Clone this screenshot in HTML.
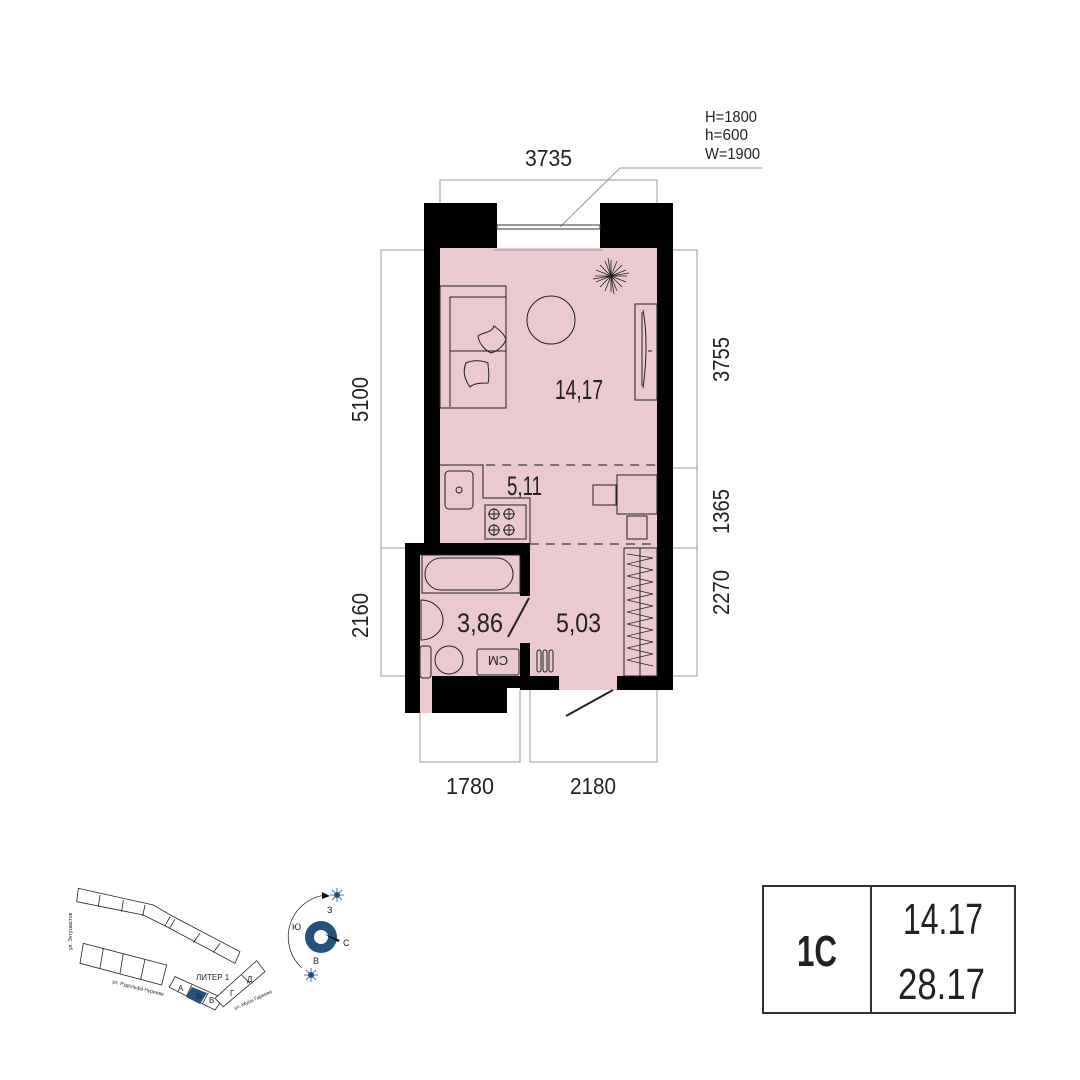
<!DOCTYPE html>
<html><head><meta charset="utf-8"><style>
html,body{margin:0;padding:0;background:#fff}
svg{display:block}
text{font-family:"Liberation Sans",sans-serif;fill:#222}
</style></head><body>
<svg width="1080" height="1080" viewBox="0 0 1080 1080" xmlns="http://www.w3.org/2000/svg">
<g stroke="#999" stroke-width="1" fill="none">
<path d="M440 203V180H657V203"/>
<path d="M424 250H381V548H407M381 548V676H407"/>
<path d="M673 250H697V468H673M697 468V548H673M697 548V676H673"/>
<path d="M420 713V762H520V690M530 690V762H657V690"/>
<path d="M560 227L620 168H762"/>
</g>
<g fill="#ecc9cf">
<rect x="440" y="248" width="217" height="297"/>
<rect x="420" y="555" width="100" height="121"/>
<rect x="420" y="676" width="12" height="37"/>
<rect x="530" y="543" width="127" height="133"/>
<rect x="520" y="596" width="10" height="47"/>
<rect x="559" y="676" width="58" height="14"/>
</g>
<g fill="#000">
<rect x="424" y="203" width="73" height="45"/>
<rect x="424" y="203" width="16" height="342"/>
<rect x="600" y="203" width="73" height="45"/>
<rect x="657" y="203" width="16" height="487"/>
<rect x="405" y="543" width="125" height="12"/>
<rect x="405" y="543" width="15" height="170"/>
<rect x="432" y="676" width="75" height="37"/>
<rect x="505" y="676" width="15" height="12"/>
<rect x="520" y="543" width="10" height="53"/>
<rect x="520" y="643" width="10" height="47"/>
<rect x="520" y="676" width="39" height="14"/>
<rect x="617" y="676" width="56" height="14"/>
</g>
<g stroke="#333" fill="none" stroke-width="1">
<rect x="497" y="225" width="103" height="4"/>
<line x1="494" y1="250" x2="603" y2="250" stroke="#999"/>
</g>
<g stroke="#222" fill="none" stroke-width="1">
<rect x="440" y="286" width="66" height="122"/>
<line x1="450" y1="297" x2="450" y2="407"/>
<line x1="450" y1="297" x2="506" y2="297"/>
<line x1="450" y1="351" x2="506" y2="351"/>
<path d="M478 336c5-4 14-3 16-10 4 3 11 8 12 14-3 6-8 11-15 13-6-3-12-9-13-17z"/>
<path d="M466 363c6-3 15-3 22 0 0 6 2 13 0 20-6 0-14 0-18 4-5-7-8-15-4-24z"/>
<circle cx="551" cy="320" r="24"/>
<rect x="635" y="304" width="22" height="96"/>
<path d="M643 310c4 20 4 50 0 78"/>
<line x1="642" y1="312" x2="642" y2="386"/>
<line x1="648" y1="351" x2="652" y2="351"/>
<g transform="translate(611,276)" stroke-width="0.8">
<path d="M0-16L0 16M-16 0L16 0M-11-11L11 11M-11 11L11-11M-6-15L6 15M6-15L-6 15M-15-6L15 6M15-6L-15 6M-3-18L3 18M-18 3L18-3"/>
</g>
<path d="M440 465H483V498H530V543"/>
<rect x="445" y="471" width="28" height="38" rx="4"/>
<circle cx="459" cy="490" r="3"/>
<rect x="485" y="505" width="41" height="34"/>
<g><circle cx="494" cy="514" r="5"/><circle cx="509" cy="514" r="5"/><circle cx="494" cy="530" r="5"/><circle cx="509" cy="530" r="5"/>
<path d="M494 508v12M488 514h12M509 508v12M503 514h12M494 524v12M488 530h12M509 524v12M503 530h12"/></g>
<rect x="617" y="475" width="40" height="39"/>
<rect x="593" y="485" width="23" height="20"/>
<rect x="627" y="516" width="20" height="23"/>
<rect x="422" y="555" width="98" height="38"/>
<rect x="425" y="558" width="88" height="32" rx="16"/>
<path d="M421 600a22 20 0 0 1 0 40z"/>
<rect x="420" y="646" width="11" height="32" rx="3"/>
<ellipse cx="449" cy="660" rx="14" ry="14"/>
<rect x="477" y="649" width="42" height="26" rx="2"/>
<line x1="529" y1="598" x2="508" y2="637" stroke-width="2"/>
<line x1="613" y1="690" x2="566" y2="716" stroke-width="2"/>
<rect x="624" y="548" width="33" height="128"/>
<line x1="640" y1="548" x2="640" y2="676"/>
<path d="M627 554L653 558L627 564L653 570L627 576L653 582L627 588L653 594L627 600L653 606L627 612L653 618L627 624L653 630L627 636L653 642L627 648L653 654L627 660L653 666" stroke-width="0.7"/>
<g stroke-width="1"><rect x="537" y="650" width="4" height="22" rx="2"/><rect x="543" y="650" width="4" height="22" rx="2"/><rect x="549" y="650" width="4" height="22" rx="2"/></g>
</g>
<g stroke="#555" stroke-width="1.5" stroke-dasharray="9 7" fill="none">
<line x1="486" y1="465" x2="657" y2="465"/>
<line x1="530" y1="544" x2="657" y2="544"/>
</g>
<g text-anchor="start">
<text x="555" y="399" font-size="28" textLength="48" lengthAdjust="spacingAndGlyphs">14,17</text>
<text x="507" y="495" font-size="27" textLength="35" lengthAdjust="spacingAndGlyphs">5,11</text>
<text x="457" y="632" font-size="27" textLength="46" lengthAdjust="spacingAndGlyphs">3,86</text>
<text x="556" y="632" font-size="27" textLength="45" lengthAdjust="spacingAndGlyphs">5,03</text>
<text x="525" y="166" font-size="23" textLength="47" lengthAdjust="spacingAndGlyphs">3735</text>
<text x="446" y="794" font-size="23" textLength="48" lengthAdjust="spacingAndGlyphs">1780</text>
<text x="570" y="794" font-size="23" textLength="46" lengthAdjust="spacingAndGlyphs">2180</text>
<text transform="translate(368,422) rotate(-90)" font-size="23" textLength="45" lengthAdjust="spacingAndGlyphs">5100</text>
<text transform="translate(368,638) rotate(-90)" font-size="23" textLength="45" lengthAdjust="spacingAndGlyphs">2160</text>
<text transform="translate(729,382) rotate(-90)" font-size="23" textLength="45" lengthAdjust="spacingAndGlyphs">3755</text>
<text transform="translate(729,534) rotate(-90)" font-size="23" textLength="45" lengthAdjust="spacingAndGlyphs">1365</text>
<text transform="translate(729,615) rotate(-90)" font-size="23" textLength="45" lengthAdjust="spacingAndGlyphs">2270</text>
</g>
<text x="498" y="668" font-size="13" text-anchor="middle" transform="rotate(180 498 662)">CM</text>
<g font-size="16" text-anchor="start">
<text x="705" y="122" textLength="52" lengthAdjust="spacingAndGlyphs">H=1800</text>
<text x="705" y="140" textLength="43" lengthAdjust="spacingAndGlyphs">h=600</text>
<text x="705" y="159" textLength="55" lengthAdjust="spacingAndGlyphs">W=1900</text>
</g>
<g stroke="#333" stroke-width="2" fill="none">
<rect x="763" y="886" width="252" height="127"/>
<line x1="871" y1="886" x2="871" y2="1013"/>
</g>
<text x="797" y="966" font-size="44" font-weight="bold" textLength="40" lengthAdjust="spacingAndGlyphs">1C</text>
<text x="903" y="934" font-size="44" textLength="80" lengthAdjust="spacingAndGlyphs">14.17</text>
<text x="898" y="999" font-size="44" textLength="87" lengthAdjust="spacingAndGlyphs">28.17</text>
<g stroke="#222" stroke-width="2.4" fill="#fff" transform="translate(60,870) scale(0.3333)">
<path d="M55 55L280 105L340 140L540 245L525 280L320 170L250 135L50 95Z"/>
<path d="M120 75L115 110M190 90L185 125M255 105L248 138M330 140L315 168M345 148L328 176M420 190L400 218M480 220L460 248"/>
<path d="M70 220L320 285L305 345L60 280Z"/>
<path d="M130 235L120 295M190 250L180 310M255 268L242 328"/>
<path d="M345 320L490 385L465 420L328 352Z" />
<path d="M395 345L380 378M445 368L428 400"/>
<path d="M465 385L590 272L615 305L490 410Z"/>
<path d="M545 315L570 340"/>
</g>
<path d="M192 987L207 993L200 1004L186 997Z" fill="#24527e"/>
<g font-size="8" fill="#333">
<text x="196" y="980">ЛИТЕР 1</text>
<text x="178" y="991">А</text><text x="196" y="999" fill="#fff">Б</text><text x="209" y="1003">В</text>
<text x="230" y="996">Г</text><text x="247" y="982">Д</text>
<text transform="translate(72,950) rotate(-90)" font-size="5">ул. Энтузиастов</text>
<text transform="translate(112,983) rotate(14)" font-size="5">ул. Рудольфа Нуреева</text>
<text transform="translate(235,1010) rotate(-25)" font-size="5">ул. Мусы Гареева</text>
</g>
<circle cx="321" cy="937" r="16" fill="#24527e"/>
<circle cx="321" cy="937" r="7" fill="#fff"/>
<path d="M324 934L340 940L338 942Z" fill="#111"/>
<path d="M327 895A42 42 0 0 0 302 968" fill="none" stroke="#333" stroke-width="0.8"/>
<path d="M322 892L330 896L322 899Z" fill="#111"/>
<g stroke="#24527e" stroke-width="0.8">
<path d="M330 895h14M337 888v14M332 890l10 10M342 890l-10 10M304 975h14M311 968v14M306 970l10 10M316 970l-10 10"/>
</g>
<circle cx="337" cy="895" r="3" fill="#24527e"/><circle cx="311" cy="975" r="3" fill="#24527e"/>
<g font-size="9" fill="#222"><text x="327" y="913">З</text><text x="292" y="930">Ю</text><text x="343" y="946">С</text><text x="313" y="964">В</text></g>
</svg>
</body></html>
